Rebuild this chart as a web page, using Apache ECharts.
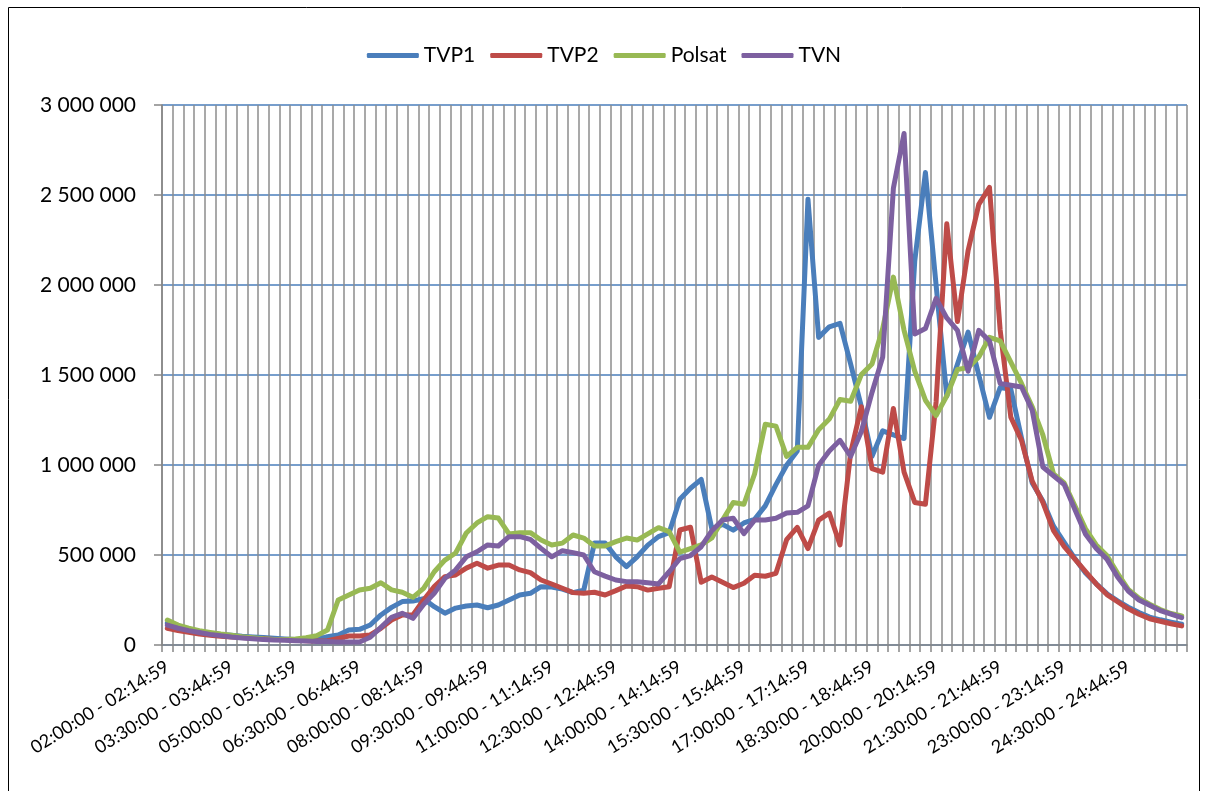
<!DOCTYPE html>
<html>
<head>
<meta charset="utf-8">
<script src="https://cdn.jsdelivr.net/npm/echarts@6/dist/echarts.min.js"></script>
<style>
html, body { margin: 0; padding: 0; background: #fff; }
#chart { width: 1208px; height: 791px; }
</style>
</head>
<body>
<div id="chart"></div>
<script>
// 15-minute slots, 02:00 .. 25:45
function slotLabel(i) {
    var m = 120 + i * 15;
    var pad = function (n) { return (n < 10 ? '0' : '') + n; };
    var h1 = Math.floor(m / 60), m1 = m % 60;
    var e = m + 14;
    var h2 = Math.floor(e / 60), m2 = e % 60;
    return pad(h1) + ':' + pad(m1) + ':00 - ' + pad(h2) + ':' + pad(m2) + ':59';
}
const categories = [];
for (let i = 0; i < 96; i++) categories.push(slotLabel(i));

const seriesNames = ['TVP1', 'TVP2', 'Polsat', 'TVN'];
const colors = ['#4A7EBB', '#BE4B48', '#98B954', '#7D60A0'];

const tvp1 = [122000, 98000, 83000, 74000, 65000, 59000, 54000, 48000, 44000, 41000, 37000, 33000, 30000, 28000, 31000, 46000, 56000, 83000, 87000, 111000, 167000, 209000, 241000, 244000, 257000,
    213000, 177000, 205000, 217000, 222000, 207000, 222000, 250000, 278000, 287000, 324000, 322000, 311000, 291000, 305000, 566000, 566000, 490000, 435000, 490000, 555000, 602000, 624000,
    810000, 871000, 920000, 645000, 670000, 638000, 678000, 698000, 773000, 891000, 999000, 1078000, 2477000, 1709000, 1768000, 1787000, 1561000, 1324000, 1048000, 1190000, 1167000, 1147000, 2132000, 2625000,
    2000000, 1383000, 1560000, 1738000, 1500000, 1265000, 1430000, 1420000, 1150000, 900000, 800000, 660000, 570000, 480000, 400000, 340000, 285000, 245000, 210000, 180000, 155000, 140000, 127000, 115000]

const tvp2 = [93000, 80000, 70000, 61000, 54000, 48000, 44000, 41000, 37000, 35000, 31000, 30000, 28000, 24000, 22000, 24000, 37000, 50000, 50000, 56000, 93000, 139000, 167000, 167000, 250000,
    324000, 380000, 389000, 427000, 454000, 427000, 444000, 444000, 417000, 402000, 361000, 339000, 315000, 291000, 287000, 293000, 278000, 302000, 328000, 324000, 305000, 315000, 324000,
    639000, 654000, 349000, 378000, 349000, 319000, 343000, 388000, 382000, 398000, 585000, 654000, 536000, 694000, 733000, 556000, 1068000, 1324000, 980000, 960000, 1314000, 960000, 792000, 782000,
    1350000, 2340000, 1797000, 2192000, 2448000, 2542000, 1750000, 1265000, 1137000, 910000, 792000, 635000, 546000, 477000, 408000, 339000, 280000, 240000, 201000, 171000, 146000, 132000, 118000, 106000]

const polsat = [139000, 111000, 93000, 80000, 70000, 61000, 54000, 46000, 41000, 35000, 31000, 31000, 33000, 40000, 52000, 83000, 250000, 278000, 306000, 315000, 346000, 306000, 293000, 265000, 315000,
    407000, 472000, 511000, 622000, 678000, 713000, 705000, 617000, 624000, 624000, 583000, 556000, 566000, 611000, 594000, 550000, 550000, 574000, 594000, 583000, 617000, 652000, 630000,
    516000, 536000, 556000, 595000, 694000, 792000, 782000, 950000, 1226000, 1216000, 1048000, 1098000, 1098000, 1196000, 1255000, 1364000, 1354000, 1502000, 1561000, 1758000, 2044000, 1748000, 1521000, 1360000,
    1275000, 1383000, 1531000, 1541000, 1600000, 1709000, 1689000, 1571000, 1453000, 1324000, 1167000, 950000, 900000, 773000, 645000, 556000, 497000, 398000, 309000, 260000, 227000, 197000, 175000, 162000]

const tvn = [111000, 93000, 80000, 69000, 59000, 52000, 44000, 39000, 35000, 31000, 28000, 26000, 24000, 22000, 20000, 19000, 17000, 17000, 17000, 43000, 98000, 154000, 176000, 148000, 225000,
    287000, 370000, 417000, 490000, 518000, 556000, 550000, 602000, 602000, 587000, 537000, 490000, 524000, 513000, 500000, 407000, 383000, 361000, 352000, 352000, 346000, 339000, 407000,
    480000, 497000, 546000, 635000, 694000, 704000, 619000, 694000, 694000, 704000, 733000, 737000, 773000, 999000, 1078000, 1137000, 1048000, 1186000, 1403000, 1600000, 2537000, 2842000, 1728000, 1758000,
    1926000, 1817000, 1748000, 1521000, 1748000, 1689000, 1453000, 1443000, 1433000, 1305000, 989000, 940000, 891000, 753000, 615000, 536000, 477000, 378000, 300000, 250000, 221000, 191000, 171000, 152000]

const seriesData = [tvp1, tvp2, polsat, tvn];

const chart = echarts.init(document.getElementById('chart'));

let mySeries = [];
for (let i = 0; i < seriesNames.length; i++) {
    mySeries.push({
        name: seriesNames[i],
        type: 'line',
        data: seriesData[i],
        showSymbol: false,
        symbol: 'none',
        animation: false,
        lineStyle: { color: colors[i], width: 5, cap: 'round', join: 'round' },
        itemStyle: { color: colors[i] }
    });
}

function spaced(v) {
    return String(v).replace(/\B(?=(\d{3})+(?!\d))/g, ' ');
}

chart.setOption({
    animation: false,
    textStyle: { fontFamily: 'Lato', color: '#000' },
    graphic: [{
        type: 'rect',
        shape: { x: 8.5, y: 7.5, width: 1191, height: 800 },
        style: { fill: 'none', stroke: '#000', lineWidth: 1 },
        silent: true
    }],
    legend: {
        top: 40,
        left: 'center',
        icon: 'roundRect',
        itemWidth: 52,
        itemHeight: 5,
        itemGap: 15,
        textStyle: { fontFamily: 'Lato', fontSize: 21, color: '#000' },
        data: seriesNames
    },
    grid: {
        left: 162,
        right: 21,
        top: 105,
        bottom: 146,
        outerBoundsMode: 'none'
    },
    xAxis: {
        type: 'category',
        boundaryGap: true,
        data: categories,
        axisLine: { lineStyle: { color: '#868686', width: 1.5 } },
        axisTick: { show: true, interval: 0, length: 7, lineStyle: { color: '#868686', width: 1.5 } },
        splitLine: { show: true, interval: 0, lineStyle: { color: '#8c8c8c', width: 1.5 } },
        axisLabel: {
            interval: 5,
            rotate: 32,
            margin: 20,
            fontFamily: 'Lato',
            fontSize: 18,
            color: '#000'
        }
    },
    yAxis: {
        type: 'value',
        min: 0,
        max: 3000000,
        interval: 500000,
        axisLine: { show: true, lineStyle: { color: '#868686', width: 1.5 } },
        axisTick: { show: true, length: 8, lineStyle: { color: '#868686', width: 1.5 } },
        splitLine: { show: true, lineStyle: { color: '#4A7EBB', width: 1.5 } },
        axisLabel: {
            margin: 26,
            fontFamily: 'Lato',
            fontSize: 21,
            color: '#000',
            formatter: spaced
        }
    },
    series: mySeries
});
</script>
</body>
</html>
